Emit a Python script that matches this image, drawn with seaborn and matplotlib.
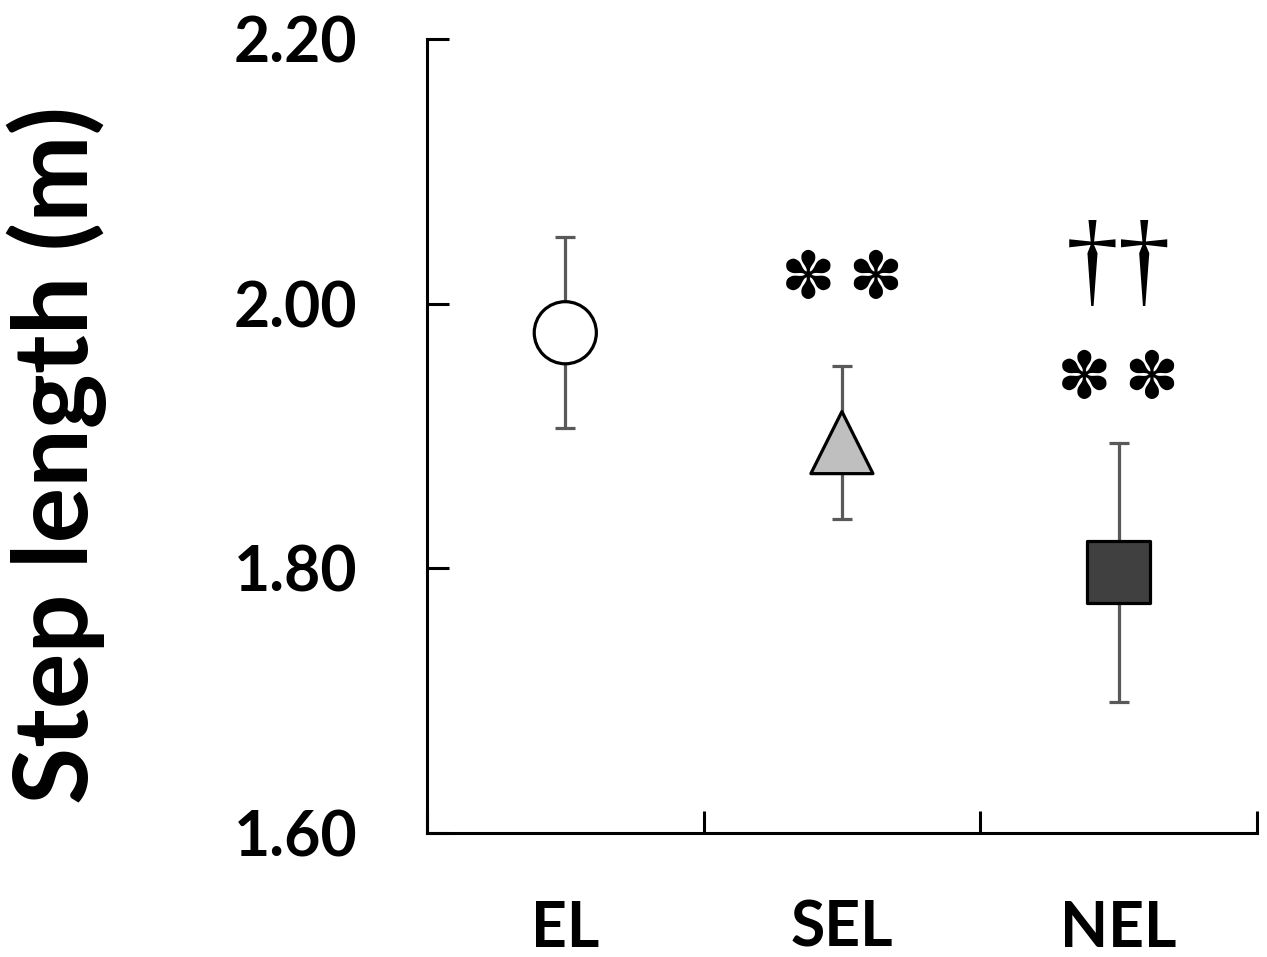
import matplotlib
matplotlib.use('Agg')
import numpy as np
import pandas as pd
import seaborn as sns
import matplotlib.pyplot as plt

# values
conditions = ['EL', 'SEL', 'NEL']
means = [1.978, 1.895, 1.797]
sds = [0.072, 0.058, 0.098]
marker_shapes = ['o', '^', 's']
fill_colors = ['white', '#bfbfbf', '#404040']
y_ticks = [1.60, 1.80, 2.00, 2.20]

sns.set_style('ticks')
plt.rcParams['font.family'] = ['Lato', 'DejaVu Sans']
plt.rcParams.update({'text.color': 'black', 'axes.labelcolor': 'black',
                     'xtick.color': 'black', 'ytick.color': 'black'})

df = pd.DataFrame({'cond': conditions, 'mean': means, 'sd': sds})
df['pos'] = np.arange(len(conditions))

fig = plt.figure(figsize=(12.67, 9.57), dpi=100)
ax = fig.add_axes([0.337, 0.1296, 0.655, 0.8297])

# SD whiskers behind the markers
ax.errorbar(df['pos'], df['mean'], yerr=df['sd'], fmt='none', ecolor='#595959',
            elinewidth=2.3, capsize=7.2, capthick=2.3, zorder=2)

sns.scatterplot(data=df, x='pos', y='mean', hue='cond', style='cond',
                markers=dict(zip(conditions, marker_shapes)),
                palette=dict(zip(conditions, fill_colors)),
                s=2000, edgecolor='black', linewidth=2.3, legend=False,
                zorder=3, ax=ax)

# significance marks
stars = '\u273d\u2009\u273d'
ax.text(1, 2.018, stars, ha='center', va='center', fontsize=47, family='DejaVu Sans')
ax.text(2, 1.942, stars, ha='center', va='center', fontsize=47, family='DejaVu Sans')
ax.text(2, 2.026, '\u2020\u2020', ha='center', va='center', fontsize=76, family='Liberation Serif')

ax.set_xlim(-0.5, 2.5)
ax.set_ylim(1.6, 2.2)
ax.set_yticks(y_ticks)
ax.set_yticklabels([f'{v:.2f}' for v in y_ticks], fontsize=45, fontweight='bold')
ax.set_xticks([-0.5, 0.5, 1.5, 2.5])
ax.set_xticklabels([])
ax.set_xticks(df['pos'], minor=True)
ax.set_xticklabels(conditions, minor=True, fontsize=45, fontweight='bold')
ax.tick_params(which='major', direction='in', length=16, width=2.2, color='black', pad=50)
ax.tick_params(axis='x', which='minor', length=0, pad=48)

for side in ['top', 'right']:
    ax.spines[side].set_visible(False)
for side in ['left', 'bottom']:
    ax.spines[side].set_linewidth(2.2)
    ax.spines[side].set_color('black')

ax.set_xlabel('')
ax.set_ylabel('Step length (m)', fontsize=75, fontweight='bold')
ax.yaxis.set_label_coords(-0.385, 0.476)

fig.savefig('out.png', dpi=100)
